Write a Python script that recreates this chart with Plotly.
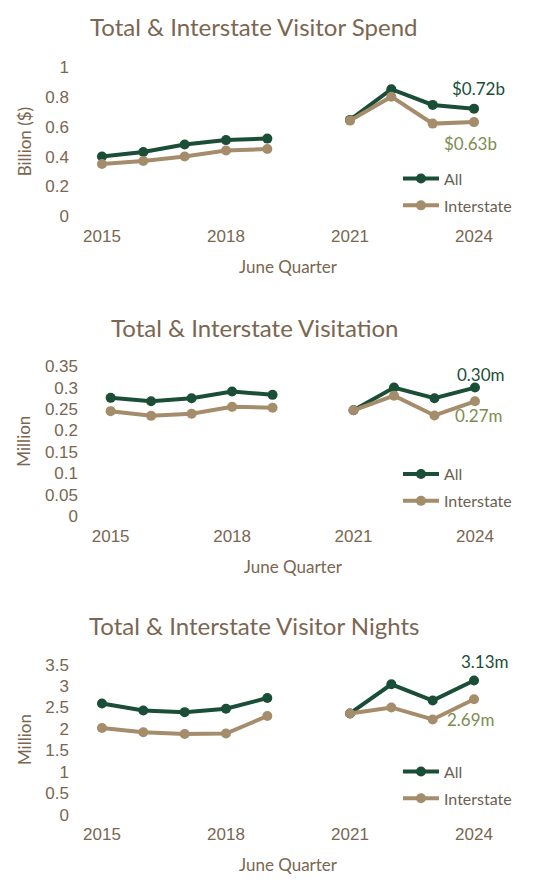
import plotly.graph_objects as go

# ---- data ----
years = [2015, 2016, 2017, 2018, 2019, 2020, 2021, 2022, 2023, 2024]
tick_years = [2015, 2018, 2021, 2024]

spend_all = [0.40, 0.43, 0.48, 0.51, 0.52, None, 0.645, 0.85, 0.745, 0.72]
spend_inter = [0.35, 0.37, 0.40, 0.44, 0.45, None, 0.64, 0.80, 0.62, 0.63]

visits_all = [0.276, 0.268, 0.275, 0.291, 0.283, None, 0.247, 0.300, 0.275, 0.300]
visits_inter = [0.245, 0.234, 0.239, 0.255, 0.253, None, 0.247, 0.281, 0.235, 0.268]

nights_all = [2.59, 2.43, 2.39, 2.47, 2.72, None, 2.36, 3.04, 2.66, 3.13]
nights_inter = [2.02, 1.92, 1.88, 1.89, 2.30, None, 2.36, 2.50, 2.22, 2.69]

titles = ["Total & Interstate Visitor Spend", "Total & Interstate Visitation",
          "Total & Interstate Visitor Nights"]
y_titles = ["Billion ($)", "Million", "Million"]
end_labels_all = ["$0.72b", "0.30m", "3.13m"]
end_labels_inter = ["$0.63b", "0.27m", "2.69m"]

GREEN = "#1b4e37"
TAN = "#a58c6a"
BROWN = "#7b6651"
OLIVE = "#7e8c50"
LEG = "#6b5f52"
CAL = "Lato, 'Open Sans', sans-serif"
ARIAL = "'Liberation Sans', Arial, sans-serif"

W, H = 559, 883

def px_x(x):
    return x / W

def px_y(y):
    return 1 - y / H

panels = [
    dict(all=spend_all, inter=spend_inter, yr=[0, 1.0], dt=0.2, y0=212, y1=59,
         xl=81.3, xr=494.7, title_y=18, leg_y=156,
         a_shift=(4, 20), i_shift=(-4, -21)),
    dict(all=visits_all, inter=visits_inter, yr=[0, 0.35], dt=0.05, y0=518.3, y1=365,
         xl=90.4, xr=495.2, title_y=325, leg_y=458,
         a_shift=(6, 13), i_shift=(4, -14)),
    dict(all=nights_all, inter=nights_inter, yr=[0, 3.5], dt=0.5, y0=823.3, y1=670,
         xl=81.3, xr=494.7, title_y=630, leg_y=762,
         a_shift=(11, 19), i_shift=(-3, -20)),
]

fig = go.Figure()
annotations = []
for i, p in enumerate(panels):
    n = "" if i == 0 else str(i + 1)
    xa, ya = "x" + n, "y" + n
    leg = "legend" + n
    fig.add_trace(go.Scatter(x=years, y=p["all"], name="All", mode="lines+markers",
                             line=dict(color=GREEN, width=4), marker=dict(size=10, color=GREEN),
                             xaxis=xa, yaxis=ya, legend=leg, connectgaps=False,
                             legendgroup="a" + n))
    fig.add_trace(go.Scatter(x=years, y=p["inter"], name="Interstate", mode="lines+markers",
                             line=dict(color=TAN, width=4), marker=dict(size=10, color=TAN),
                             xaxis=xa, yaxis=ya, legend=leg, connectgaps=False,
                             legendgroup="b" + n))
    dom_x = [px_x(p["xl"]), px_x(p["xr"])]
    dom_y = [px_y(p["y0"]), px_y(p["y1"])]
    fig.update_layout(**{
        "xaxis" + n: dict(domain=dom_x, range=[2014.5, 2024.5], tickvals=tick_years,
                          showgrid=False, zeroline=False, showline=False,
                          ticks="outside", ticklen=4, tickcolor="rgba(0,0,0,0)",
                          tickfont=dict(family=ARIAL, size=17, color=BROWN),
                          anchor=ya,
                          title=dict(text="June Quarter", font=dict(family=CAL, size=17, color=BROWN),
                                     standoff=16)),
        "yaxis" + n: dict(domain=dom_y, range=p["yr"], dtick=p["dt"], showgrid=False,
                          zeroline=False, showline=False, anchor=xa,
                          ticks="outside", ticklen=8, tickcolor="rgba(0,0,0,0)",
                          tickfont=dict(family=ARIAL, size=17, color=BROWN),
                          title=dict(text=y_titles[i], font=dict(family=CAL, size=17, color=BROWN),
                                     standoff=9)),
        leg: dict(x=px_x(398), y=px_y(p["leg_y"]), xanchor="left", yanchor="top",
                  font=dict(family=CAL, size=16, color=LEG), bgcolor="rgba(0,0,0,0)",
                  tracegroupgap=3, traceorder="grouped", itemwidth=36),
    })
    annotations.append(dict(text=titles[i], x=px_x(254), y=px_y(p["title_y"]), xref="paper", yref="paper",
                            xanchor="center", yanchor="middle", showarrow=False,
                            font=dict(family=CAL, size=24, color=BROWN)))
    annotations.append(dict(text=end_labels_all[i], x=years[-1], y=p["all"][-1], xref=xa, yref=ya,
                            xshift=p["a_shift"][0], yshift=p["a_shift"][1], showarrow=False,
                            font=dict(family=CAL, size=17, color=GREEN)))
    annotations.append(dict(text=end_labels_inter[i], x=years[-1], y=p["inter"][-1], xref=xa, yref=ya,
                            xshift=p["i_shift"][0], yshift=p["i_shift"][1], showarrow=False,
                            font=dict(family=CAL, size=17, color=OLIVE)))

fig.update_layout(width=W, height=H, margin=dict(l=0, r=0, t=0, b=0),
                  paper_bgcolor="white", plot_bgcolor="white", annotations=annotations,
                  showlegend=True)
fig.write_html("out.html", config={"displayModeBar": False},
               post_script="document.body.style.margin='0';document.body.style.overflow='hidden';")
